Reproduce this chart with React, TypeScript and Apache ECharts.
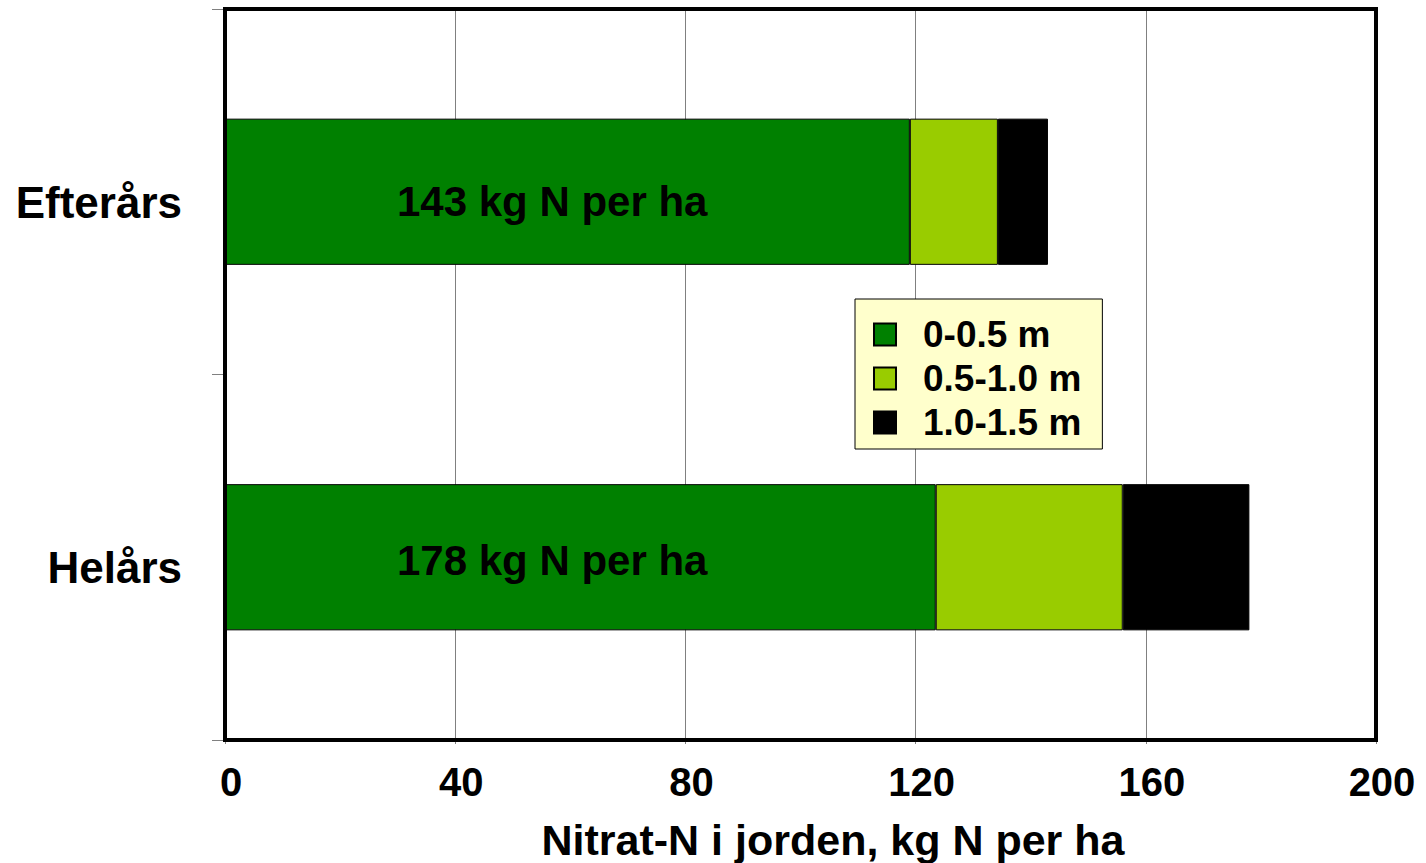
import React, { useEffect, useRef } from "react";
import * as echarts from "echarts";

const categories = ["Efterårs", "Helårs"];
const seriesNames = ["0-0.5 m", "0.5-1.0 m", "1.0-1.5 m"];
const depth0to05 = [119, 123.5];
const depth05to10 = [15.3, 32.5];
const depth10to15 = [8.7, 22];
const xTicks = { min: 0, max: 200, interval: 40 };
const xAxisTitle = "Nitrat-N i jorden, kg N per ha";
const colors = ["#008000", "#99CC00", "#000000"];

const FONT = "'Liberation Sans', Arial, Helvetica, sans-serif";

export default function App() {
  const ref = useRef<HTMLDivElement>(null);
  useEffect(() => {
    if (!ref.current) return;
    const chart = echarts.init(ref.current, undefined, { renderer: "svg" });
    const totals = categories.map((_, i) =>
      Math.round(depth0to05[i] + depth05to10[i] + depth10to15[i])
    );
    const labelOffsets = [10, 3];
    const all = [depth0to05, depth05to10, depth10to15];
    const G = { left: 225, right: 50, top: 9, bottom: 123 };
    chart.setOption({
      animation: false,
      backgroundColor: "#ffffff",
      grid: {
        left: G.left,
        right: G.right,
        top: G.top,
        bottom: G.bottom,
        show: false,
      },
      legend: {
        orient: "vertical",
        left: 855,
        top: 299,
        backgroundColor: "#FFFFCC",
        borderColor: "#000000",
        borderWidth: 1,
        padding: [17, 21, 8, 18],
        itemWidth: 22,
        itemHeight: 22,
        itemGap: 7,
        icon: "rect",
        data: seriesNames,
        textStyle: {
          fontFamily: FONT,
          fontSize: 37,
          fontWeight: "bold",
          color: "#000000",
          lineHeight: 37,
          padding: [0, 0, 0, 22],
        },
      },
      xAxis: {
        type: "value",
        min: xTicks.min,
        max: xTicks.max,
        interval: xTicks.interval,
        axisLine: { show: false },
        axisTick: { show: true, length: 4, lineStyle: { color: "#808080" } },
        splitLine: { show: true, lineStyle: { color: "#808080", width: 1 } },
        axisLabel: {
          formatter: (v: number) => `{a|${v}}`,
          margin: 22,
          rich: {
            a: {
              fontFamily: FONT,
              fontSize: 40,
              fontWeight: "bold",
              color: "#000000",
              padding: [0, 0, 0, 12],
            },
          },
        },
      },
      yAxis: {
        type: "category",
        inverse: true,
        data: categories,
        axisLine: { show: false },
        axisTick: {
          show: true,
          length: 13,
          lineStyle: { color: "#808080", width: 1 },
        },
        axisLabel: {
          margin: 43,
          formatter: (v: string) => `{a|${v}}`,
          rich: {
            a: {
              fontFamily: FONT,
              fontSize: 44,
              fontWeight: "bold",
              color: "#000000",
              padding: [21, 0, 0, 0],
            },
          },
        },
      },
      series: seriesNames.map((name, s) => ({
        name,
        type: "bar",
        stack: "total",
        barCategoryGap: "60%",
        itemStyle: {
          color: colors[s],
          borderColor: "#000000",
          borderWidth: 1,
        },
        data: all[s].map((v, i) =>
          s === 0
            ? {
                value: v,
                label: {
                  show: true,
                  position: [172, "50%"],
                  align: "left",
                  verticalAlign: "middle",
                  offset: [0, labelOffsets[i]],
                  formatter: () => `${totals[i]} kg N per ha`,
                  fontFamily: FONT,
                  fontSize: 42,
                  fontWeight: "bold",
                  color: "#000000",
                },
              }
            : v
        ),
      })),
      graphic: [
        {
          type: "rect",
          z: 100,
          silent: true,
          shape: {
            x: G.left,
            y: G.top,
            width: 1426 - G.left - G.right,
            height: 863 - G.top - G.bottom,
          },
          style: { fill: "none", stroke: "#000000", lineWidth: 4 },
        },
        {
          type: "text",
          x: 833,
          y: 840,
          style: {
            text: xAxisTitle,
            fontFamily: FONT,
            fontSize: 43,
            fontWeight: "bold",
            fill: "#000000",
            textAlign: "center",
            textVerticalAlign: "middle",
          },
        },
      ],
    });
    return () => chart.dispose();
  }, []);
  return (
    <div
      ref={ref}
      style={{ position: "fixed", left: 0, top: 0, width: 1426, height: 863 }}
    />
  );
}
